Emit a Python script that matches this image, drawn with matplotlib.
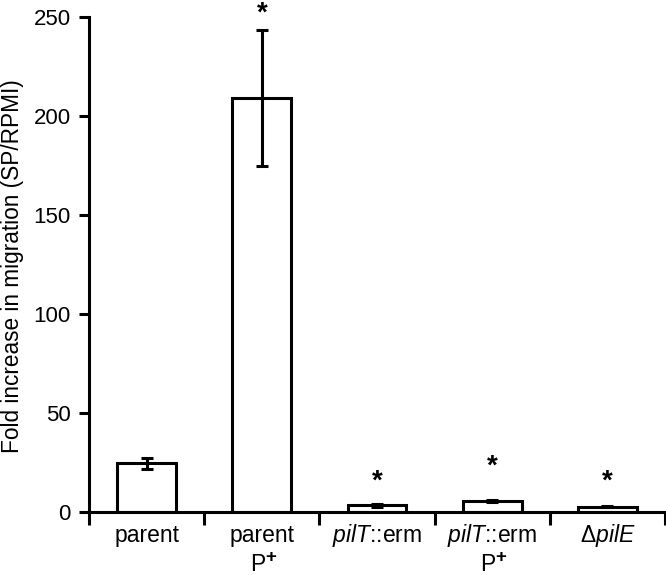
import matplotlib
matplotlib.use("Agg")
import matplotlib.pyplot as plt
import numpy as np

plt.rcParams['font.family'] = ['Liberation Sans', 'DejaVu Sans']
plt.rcParams['mathtext.fontset'] = 'custom'
plt.rcParams['mathtext.rm'] = 'Liberation Sans'
plt.rcParams['mathtext.it'] = 'Liberation Sans:italic'

categories = ["parent", "parent\nP+", "$\\it{pilT}$::erm", "$\\it{pilT}$::erm\nP+", "Δ$\\it{pilE}$"]
values = [24.5, 209.0, 3.2, 5.4, 2.5]
errors = [2.7, 34.5, 0.8, 0.5, 0.3]
star_y = [None, 251.5, 15.0, 23.0, 15.0]
yticks = [0, 50, 100, 150, 200, 250]
ylabel = "Fold increase in migration (SP/RPMI)"

fig = plt.figure(figsize=(6.66, 5.75), dpi=100)
ax = fig.add_axes([0.1336, 0.110, 0.865, 0.861])

x = np.arange(len(categories))
ax.bar(x, values, width=0.51, color='white', edgecolor='black', linewidth=2.2, zorder=2)
ax.errorbar(x, values, yerr=errors, fmt='none', ecolor='black', elinewidth=2.2,
            capsize=4.5, capthick=2.2, zorder=3)
for xi, sy in zip(x, star_y):
    if sy is not None:
        ax.text(xi, sy, "*", ha='center', va='center', fontsize=20,
                fontweight='bold', clip_on=False)

ax.set_xlim(-0.5, len(categories) - 0.5)
ax.set_ylim(0, 250)
ax.set_yticks(yticks)
ax.set_xticks(x)
ax.set_xticklabels([""] * len(categories))
ax.set_xticks(np.arange(-0.5, len(categories), 1.0), minor=True)
ax.tick_params(axis='x', which='major', length=0)
ax.tick_params(axis='x', which='minor', length=9, width=2.2, direction='out')
ax.tick_params(axis='y', length=7, width=2.2, direction='out', labelsize=16, pad=6)

# category labels (two-line labels with raised "+")
lab_fs = 16.5
px = 0.72  # points per pixel at dpi 100
for xi, cat in zip(x, categories):
    lines = cat.split("\n")
    ax.annotate(lines[0], xy=(xi, 0), xycoords=('data', 'axes fraction'),
                xytext=(0, -30 * px), textcoords='offset points',
                ha='center', va='baseline', fontsize=lab_fs)
    if len(lines) > 1:
        second = lines[1]
        base, sup = second[:-1], second[-1]
        ax.annotate(base, xy=(xi, 0), xycoords=('data', 'axes fraction'),
                    xytext=(3.5 * px, -59.5 * px), textcoords='offset points',
                    ha='right', va='baseline', fontsize=lab_fs)
        ax.annotate(sup, xy=(xi, 0), xycoords=('data', 'axes fraction'),
                    xytext=(3.0 * px, -50 * px), textcoords='offset points',
                    ha='left', va='baseline', fontsize=13.5, fontweight='bold',
                    annotation_clip=False)

ax.set_ylabel(ylabel, fontsize=16.3)
ax.yaxis.set_label_coords(-0.112, 0.497)

for s in ['top', 'right']:
    ax.spines[s].set_visible(False)
for s in ['left', 'bottom']:
    ax.spines[s].set_linewidth(2.2)

fig.savefig("out.png", dpi=100)
